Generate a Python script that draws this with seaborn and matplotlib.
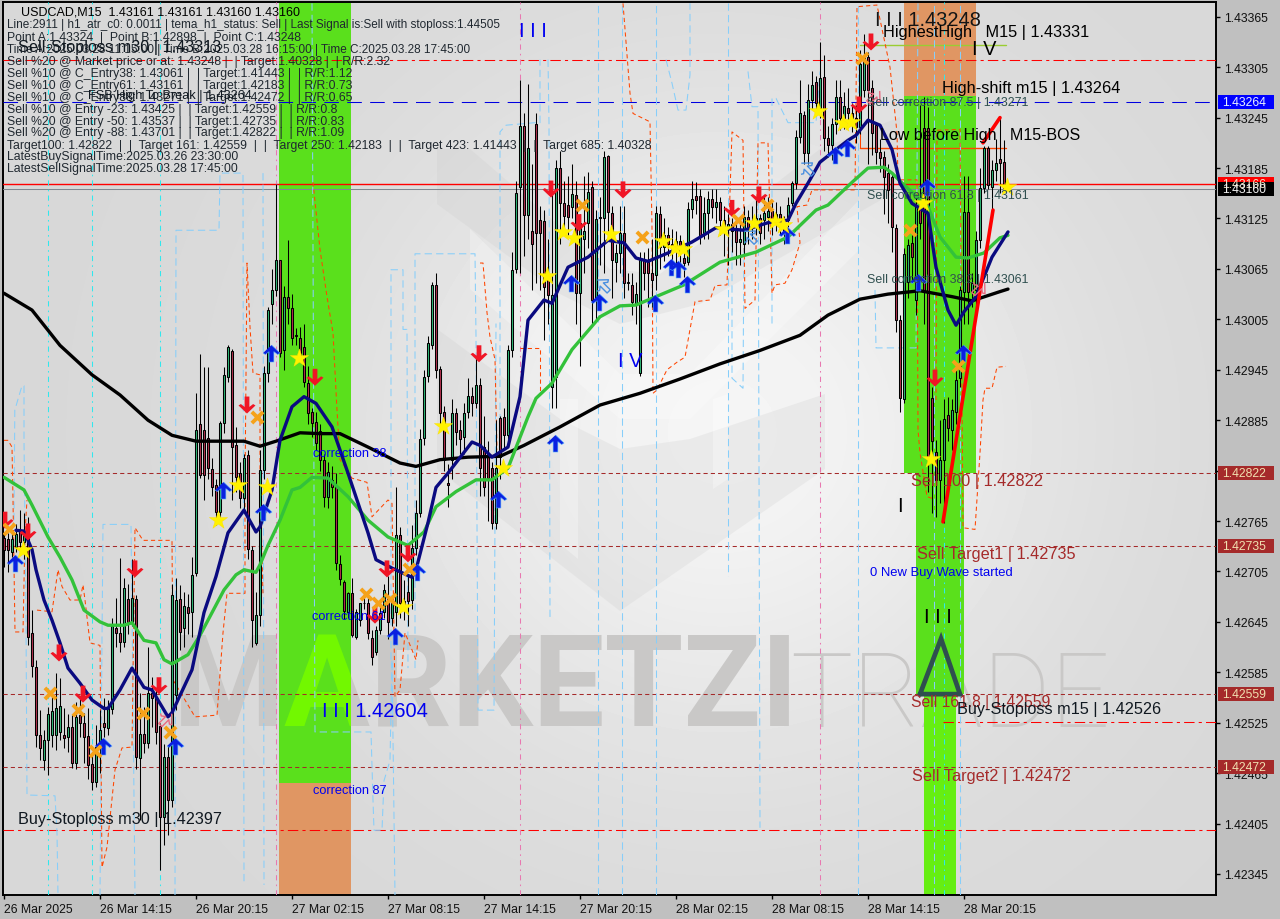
import numpy as np
import pandas as pd
import matplotlib
matplotlib.use("Agg")
import matplotlib.pyplot as plt
import seaborn as sns
from matplotlib.patches import Polygon, Rectangle
from matplotlib.transforms import Affine2D

# ---- candle values, in points (1e-5) above 1.42000
opens = [745,744,728,734,754,740,750,632,591,510,
 481,505,510,510,514,510,508,520,477,534,
 525,509,476,454,496,525,519,541,638,632,
 621,672,645,672,483,512,501,560,555,521,
 413,484,433,558,672,638,663,657,703,880,
 873,864,827,808,776,882,936,967,855,822,
 792,843,731,620,653,826,941,1023,1040,1076,
 969,1031,1019,986,983,972,929,895,883,872,
 838,794,814,805,714,692,657,679,627,647,
 668,667,626,609,635,657,675,650,657,748,
 670,680,671,733,775,864,937,975,1046,946,
 895,810,838,893,873,865,895,914,905,927,
 853,846,828,763,888,889,867,968,1065,1162,
 1235,1129,1110,1238,1123,1122,1058,924,936,1185,
 1143,1141,1139,1153,1036,1100,1120,1162,1028,1127,
 1126,1199,1132,1073,1084,1108,1049,1046,1024,941,
 1076,1073,1060,1058,1130,1091,1105,1095,1090,1098,
 1078,1073,1136,1152,1152,1108,1131,1148,1139,1145,
 1123,1115,1118,1111,1097,1095,1127,1114,1118,1125,
 1123,1127,1134,1120,1130,1115,1123,1143,1167,1222,
 1248,1203,1266,1287,1256,1293,1221,1212,1237,1270,
 1245,1256,1250,1245,1234,1278,1317,1280,1236,1204,
 1198,1179,1174,1114,1004,910,1050,1096,1028,1140,
 1233,1233,911,847,814,838,891,873,895,935,
 1038,1133,1038,1040,1099,1161,1209,1162,1183,1196,1192]
closes = [731,731,744,750,740,752,627,593,510,495,
 505,535,539,543,545,507,520,477,532,525,
 508,475,454,496,516,520,543,640,632,621,
 685,645,673,484,512,501,560,555,514,413,
 484,433,677,671,633,664,656,701,873,820,
 820,828,806,776,882,939,972,853,817,792,
 840,732,647,653,826,941,1016,1040,1076,965,
 1031,1019,983,985,960,930,893,882,858,838,
 794,823,805,715,696,658,679,629,657,668,
 667,632,603,635,656,683,645,668,748,667,
 660,670,733,775,863,936,977,1046,945,893,
 838,808,893,871,863,893,914,905,927,828,
 806,816,763,828,841,867,968,1064,1155,1235,
 1129,1209,1095,1108,1108,1044,1034,1034,1185,1143,
 1128,1127,1154,1036,1120,1110,1157,1028,1124,1125,
 1198,1133,1076,1084,1108,1048,1048,1026,1035,1076,
 1060,1060,1052,1131,1091,1105,1095,1090,1098,1085,
 1072,1136,1148,1147,1103,1131,1148,1139,1145,1123,
 1115,1118,1110,1097,1100,1127,1114,1118,1125,1108,
 1131,1134,1120,1130,1115,1110,1141,1167,1222,1250,
 1203,1266,1284,1262,1292,1221,1212,1237,1270,1245,
 1259,1250,1245,1234,1309,1317,1278,1227,1204,1197,
 1174,1159,1115,1004,911,1083,1093,1079,1141,1120,
 1040,840,860,814,838,886,876,897,933,1040,
 1133,1038,1048,1099,1161,1209,1165,1183,1191,1191,1161]
highs = [751,751,754,762,778,775,770,659,600,540,
 516,544,560,584,578,543,535,534,550,556,
 537,542,490,522,540,554,552,650,673,721,
 697,690,720,677,560,544,615,579,565,525,
 500,497,690,697,689,680,678,722,917,964,
 948,948,840,815,884,948,975,970,877,835,
 845,850,735,680,850,950,1020,1065,1166,1076,
 1045,1099,1035,995,996,1000,950,900,895,880,
 845,835,830,822,725,695,681,697,660,668,
 675,675,635,640,670,690,700,672,805,758,
 695,700,760,790,875,945,985,1050,1060,950,
 902,833,910,900,885,905,935,925,960,935,
 890,860,835,885,890,900,975,1085,1170,1290,
 1250,1285,1190,1250,1140,1135,1100,1165,1195,1205,
 1170,1175,1190,1170,1130,1175,1180,1170,1135,1150,
 1205,1200,1140,1095,1140,1140,1060,1060,1050,1085,
 1085,1090,1100,1140,1140,1125,1115,1112,1110,1105,
 1090,1145,1170,1168,1160,1150,1158,1160,1160,1150,
 1140,1130,1125,1125,1120,1140,1135,1140,1150,1130,
 1150,1150,1145,1145,1140,1128,1150,1170,1230,1290,
 1253,1285,1300,1295,1335,1320,1235,1245,1290,1290,
 1275,1280,1262,1260,1325,1345,1323,1290,1240,1220,
 1205,1190,1180,1118,1010,1090,1100,1105,1150,1260,
 1270,1258,925,862,885,910,913,910,953,1045,
 1175,1175,1060,1110,1185,1211,1211,1195,1220,1244,1218]
lows = [710,704,722,728,727,720,617,579,496,481,
 469,463,496,492,504,495,490,471,470,508,
 477,458,445,448,465,508,510,535,615,609,
 615,630,640,470,409,489,495,520,500,350,
 380,391,425,540,611,615,631,627,700,816,
 790,815,795,760,770,870,930,790,800,780,
 775,720,615,618,640,815,930,1000,1033,960,
 945,1000,975,975,955,925,880,865,850,825,
 782,780,792,707,689,648,650,627,625,640,
 660,625,594,605,630,650,625,640,640,650,
 647,640,660,725,770,855,930,970,935,880,
 825,782,815,855,845,845,888,890,900,795,
 795,765,755,755,815,850,860,960,1060,1060,
 1080,1100,1040,1048,1040,980,1000,900,900,1095,
 1105,1105,1125,1000,950,1060,1090,1000,1005,1070,
 1060,1110,1030,1050,1060,1030,1040,1010,1000,938,
 1040,1020,1020,1040,1065,1075,1080,1075,1070,1060,
 1055,1070,1125,1130,1095,1100,1100,1125,1120,1105,
 1080,1070,1085,1070,1070,1080,1095,1100,1105,1095,
 1100,1110,1105,1110,1105,1095,1115,1140,1160,1215,
 1190,1190,1255,1250,1245,1205,1198,1195,1225,1230,
 1232,1235,1228,1215,1225,1270,1190,1200,1190,1180,
 1130,1120,1085,990,895,905,1030,1050,1010,1100,
 1000,800,775,770,787,763,860,850,880,925,
 1000,1000,1020,1010,1090,1155,1160,1125,1170,1155,1160]

# ---- moving averages: bar number and level
ma_slow_x = [0,7,14,22,29,36,42,48,54,60,64,68,74,79,84,91,99,103,109,116,124,130,139,149,159,169,179,189,199,206,214,221,229,237,242,249,251]
ma_slow_y = [1036,1016,974,939,915,885,867,860,860,860,854,860,870,869,869,853,834,830,838,841,842,855,877,903,917,934,952,968,986,1010,1029,1035,1039,1032,1027,1038,1041]
ma_mid_x = [0,2,5,7,11,14,17,20,24,26,30,32,35,38,40,42,46,49,51,55,58,60,63,64,66,69,72,74,77,81,86,91,96,101,105,108,113,118,122,126,131,133,137,142,149,154,158,162,170,179,188,196,203,206,212,216,220,222,225,231,234,238,241,245,249,251]
ma_mid_y = [817,811,802,784,746,722,695,659,645,641,641,644,623,620,600,595,606,629,647,683,701,707,704,713,736,766,802,805,817,816,794,766,746,736,752,782,800,814,814,828,889,911,929,969,1008,1021,1022,1030,1046,1073,1085,1103,1135,1141,1168,1185,1186,1179,1165,1139,1103,1079,1078,1084,1102,1105]
ma_fast_x = [3,5,7,8,10,12,14,16,19,22,25,26,29,32,35,37,41,42,47,50,53,56,60,63,64,67,69,72,75,78,82,86,91,93,97,102,103,106,108,111,117,119,122,126,129,131,135,137,141,146,151,155,158,161,166,172,178,185,191,196,198,201,204,208,211,213,216,219,222,224,227,231,233,236,238,240,243,247,251]
ma_fast_y = [754,753,731,707,671,647,620,590,572,552,542,542,564,590,567,564,532,537,588,656,699,751,778,752,758,802,861,901,913,905,877,822,751,719,709,698,707,763,805,822,859,855,841,853,913,1004,1028,1024,1067,1079,1099,1096,1078,1074,1084,1097,1114,1111,1120,1123,1143,1167,1192,1207,1218,1224,1242,1236,1207,1167,1143,1131,1067,1016,998,1014,1032,1079,1109]

# ---- signal markers: bar number and level
star_x = [4.75,53.5,58.5,65.75,73.75,109.75,124.75,99.75,135.75,139.75,142.5,151.75,164.75,167.75,169.75,179.75,187.5,192.75,194.75,203.5,209.75,211.75,229.75,231.75,250.75]
star_y = [731,766,808,805,959,878,828,663,1057,1109,1102,1107,1098,1090,1089,1112,1120,1122,1117,1253,1239,1240,1143,839,1162]
cross_x = [1.25,63.25,11.5,18.5,34.75,41.5,22.75,90.5,93.5,96.5,101.25,144.5,159.5,183.5,190.75,214.5,226.5,238.5]
cross_y = [755,889,560,540,537,514,491,678,667,672,708,1141,1103,1123,1141,1316,1111,949]
down_x = [0.25,6,13.75,19.75,32.75,38.75,60.75,77.75,95.75,101,92.75,118.75,136.75,143.75,154.75,182,188.75,213.75,216.75,232.75]
down_y = [766,752,608,559,708,569,903,936,708,726,653,964,1160,1120,1159,1137,1153,1260,1335,935]
up_x = [2.75,24.75,42.75,54.75,64.75,66.75,97.75,103.25,123.5,137.75,141.75,148.75,162.75,166.75,168.5,170.75,195.75,207.75,210.75,230.75,228.5,239.75]
up_y = [715,497,497,802,776,965,628,704,791,858,1048,1026,1024,1067,1065,1047,1105,1201,1209,1162,1049,965]
hollow_up_x = [149.75,186.5,200.75]
hollow_up_y = [1045,1103,1184]
hollow_dn_x = [40.5,217.5,243.75]
hollow_dn_y = [529,1270,1042]

# ---- dashed channel lines: (bar, level)
sky_paths = [
 [(2.5,766),(2.7,897),(4.5,926),(5,926),(5,861),(5.5,647),(5.75,439),(12.75,438),(13.25,394),(13.5,319)],
 [(24,319),(24.5,623),(24.75,761),(31.75,761),(32.25,552),(32.75,319)],
 [(42.75,319),(43,1111),(53.75,1111),(54,1179),(59.75,1179),(60,332)],
 [(64.75,1179),(65,332)],
 [(77,1381),(77.75,514),(91.75,514),(92.25,433),(92.5,397),(94.5,397),(95,456),(96.5,480),(97,600),(97.75,319)],
 [(96.75,600),(96.75,1064),(99.75,1064),(99.75,993),(100.75,993),(101,590)],
 [(102.75,590),(102.75,1083),(117.75,1083),(118,985),(118.5,540),(122.5,540),(123,1000)],
 [(124,870),(124,1228),(125.5,1236),(132.75,1239),(134,1239),(134,1314)],
 [(136,1314),(136.25,1239),(136.5,650)],
 [(165.5,1314),(167,1286),(168.5,1254),(170.5,1254),(171.5,1296),(171.5,1381)],
 [(181,1381),(181,700)],
 [(182,1100),(182,935),(184.75,923),(185,1100)],
 [(186,1300),(187,1258),(188.5,1258),(189,400)],
 [(192,1000),(192,1268),(193,1268),(196,1239),(203,1239),(204,1300)],
 [(217.75,1040),(218,971),(228,971),(228.5,1381)],
]
orange_paths = [
 [(0,861),(1,861),(2,853),(2.25,790),(2.75,633),(4.75,633),(5.25,751),(5.75,790)],
 [(8.25,659),(12,657),(13.5,707),(14.5,687),(16.5,671),(19,671),(19.75,689),(20.25,671),(21.5,620),(24,617),(24.5,353),(25.75,377),(27.75,469),(29.5,495),(32,496),(32.75,757),(34.75,742),(42,742),(42.25,576),(47.75,532),(53.25,534),(54.75,632),(55.75,679),(60.25,679),(60.25,805),(60.75,1072),(61.5,996),(62.25,941),(64,939),(64,814),(64.75,679)],
 [(77.25,1168),(79,1088),(80.75,1032),(82.25,989),(83.25,897),(84,838),(87,816),(90.75,811),(92,770),(96,790),(97,786),(97.75,556),(99,564),(100.25,632),(103,600),(103.5,623)],
 [(119,1072),(119.75,1072),(120.75,1013),(121.5,984),(122.75,957),(123.25,850)],
 [(129,971),(134,971),(134,917)],
 [(154.75,1381),(156.5,1274),(157.25,1250),(161.5,1240),(162,1115),(162.25,917),(163.25,921),(165.75,945),(168.25,954),(170.25,960),(172.75,1026),(176.5,1028),(177.75,1045),(180.75,1046),(182,1228),(184.75,1218),(185.25,1018),(187.75,1028),(188.5,1215),(191,1215),(192,1036),(192.75,1046),(195.25,1048),(197,1064),(199,1096),(198.25,1139),(200.75,1141),(202,1159),(212.75,1159),(213.25,1377),(218.25,1379),(221.5,1305),(223.25,1227),(223.5,1171),(228.25,1171),(228.5,873),(229,846),(230.75,794),(232,792)],
 [(233,909),(233.25,1230),(239,1231),(239.75,757),(242.75,755),(244,846),(244.75,909),(245.25,923),(247,923),(248.25,948),(250.5,949)],
]
cyan_bars = [11, 22, 39, 235]
sky_bars = [148.5, 154.5, 163, 213.5, 232.5, 239]
pink_bars = [68, 129, 204]

# ---- levels
level_sell_sl = 1.43313
level_high_shift = 1.43264
level_bid = 1.43160
level_ask = 1.43166
levels_target = [1.42822, 1.42735, 1.42559, 1.42472]
level_buy_sl_m30 = 1.42397
level_buy_sl_m15 = 1.42526
level_highest = 1.43331
level_bos = 1.43209
zone_a_split = 1.42453
# leg lines: (bar, level)
leg_up = [(234.75,764),(247.25,1135)]
leg_up2 = [(244.75,1215),(249,1245)]
triangle = [(229,1.42559),(234.25,1.42625),(239,1.42559)]

y_ticks = [1.43365,1.43305,1.43245,1.43185,1.43125,1.43065,1.43005,1.42945,1.42885,1.42825,1.42765,1.42705,1.42645,1.42585,1.42525,1.42465,1.42405,1.42345]
x_tick_bars = [0,24,48,72,96,120,144,168,192,216,240]
x_tick_labels = ["26 Mar 2025","26 Mar 14:15","26 Mar 20:15","27 Mar 02:15","27 Mar 08:15","27 Mar 14:15","27 Mar 20:15","28 Mar 02:15","28 Mar 08:15","28 Mar 14:15","28 Mar 20:15"]

info_lines = [
 "Line:2911 | h1_atr_c0: 0.0011 | tema_h1_status: Sell | Last Signal is:Sell with stoploss:1.44505",
 "Point A:1.43324  |  Point B:1.42898  |  Point C:1.43248",
 "Time A:2025.03.28 11:15:00 | Time B:2025.03.28 16:15:00 | Time C:2025.03.28 17:45:00",
 "Sell %20 @ Market price or at: 1.43248 |  | Target:1.40328 |  | R/R:2.32",
 "Sell %10 @ C_Entry38: 1.43061 |  | Target:1.41443 |  | R/R:1.12",
 "Sell %10 @ C_Entry61: 1.43161 |  | Target:1.42183 |  | R/R:0.73",
 "Sell %10 @ C_Entry88: 1.43271 |  | Target:1.42472 |  | R/R:0.65",
 "Sell %10 @ Entry -23: 1.43425 |  | Target:1.42559 |  | R/R:0.8",
 "Sell %20 @ Entry -50: 1.43537 |  | Target:1.42735 |  | R/R:0.83",
 "Sell %20 @ Entry -88: 1.43701 |  | Target:1.42822 |  | R/R:1.09",
 "Target100: 1.42822  |  |  Target 161: 1.42559  |  |  Target 250: 1.42183  |  |  Target 423: 1.41443  |  |  Target 685: 1.40328",
 "LatestBuySignalTime:2025.03.26 23:30:00",
 "LatestSellSignalTime:2025.03.28 17:45:00",
]
info_sizes = [11.8, 12.2, 11.8, 12.2, 12.2, 12.2, 12.2, 12.2, 12.2, 12.2, 12.2, 12.2, 12.2]

def P(v):
    return 1.42 + np.asarray(v, dtype=float) * 1e-5

sns.set_theme(style="white")
plt.rcParams["font.family"] = ["Liberation Sans", "DejaVu Sans"]
W, H = 1280, 920
GREY = "#c0c0c0"
fig = plt.figure(figsize=(W/100, H/100), dpi=100, facecolor=GREY)
ax = fig.add_axes([3/W, (H-896)/H, 1213/W, 893/H])
XL = (-0.25, 303.0)
YL = (1.4232, 1.433826)
PX = Affine2D().scale(1, -1).translate(0, H)

# background gradient (decorative)
yy, xx = np.mgrid[0:120, 0:160]
gx, gy = xx/159*1213, yy/119*893
bg = 0.845 + 0.115*np.exp(-(((gx-720)/340)**2 + ((gy-430)/330)**2))
ax.imshow(bg, extent=[XL[0], XL[1], YL[0], YL[1]], aspect="auto", cmap="gray", vmin=0, vmax=1, zorder=0, interpolation="bilinear")
ax.set_xlim(*XL); ax.set_ylim(*YL)

# faint logo (decorative)
for pts, col in [
    ([(437,205),(437,150),(470,150),(610,270),(660,275),(820,150),(900,118),(900,190),(700,305),(620,325),(560,295)], (0.78,0.78,0.78,0.22)),
    ([(437,330),(437,470),(620,612),(825,470),(825,395),(690,440),(620,450),(560,420)], (0.78,0.78,0.78,0.22)),
    ([(560,400),(578,400),(578,560),(560,545)], (1,1,1,0.3)),
    ([(713,400),(728,395),(728,480),(713,490)], (1,1,1,0.3)),
    ([(470,230),(620,375),(690,375),(860,200),(860,250),(690,420),(620,420),(470,290)], (1,1,1,0.28)),
]:
    ax.add_patch(Polygon(pts, closed=True, transform=PX, fc=col, ec="none", zorder=1))

# zones
C_GREEN = "#5ae01c"; C_ORANGE = "#e09663"; C_LIME = "#66ee12"
z_a = (68.75, 86.75)
ax.fill_between(z_a, zone_a_split, YL[1], color=C_GREEN, lw=0, zorder=2)
ax.fill_between(z_a, YL[0], zone_a_split, color=C_ORANGE, lw=0, zorder=2)
ax.fill_between((225,243), 1.42822, 1.43271, color=C_GREEN, lw=0, zorder=2)
ax.fill_between((225,243), 1.43271, YL[1], color=C_ORANGE, lw=0, zorder=2)
ax.fill_between((228,240), 1.42559, 1.42822, color=C_GREEN, lw=0, zorder=2)
ax.fill_between((230,238), YL[0], 1.42559, color=C_LIME, lw=0, zorder=2)

# watermark: grey outside the green zone, lime inside it
ax.text(173, 727, "MARKETZI", transform=PX, fontsize=92, fontweight="bold", color="#c9c8c7", va="baseline", ha="left", family="Roboto", zorder=1.5)
wm2 = ax.text(173, 727, "MARKETZI", transform=PX, fontsize=92, fontweight="bold", color="#72f800", va="baseline", ha="left", family="Roboto", zorder=3.1)
clip = Rectangle((279, 0), 72, 783, transform=PX, fc="none", ec="none")
ax.add_patch(clip)
wm2.set_clip_on(True)
wm2.set_clip_path(clip)
ax.text(790, 727, "TRADE", transform=PX, fontsize=75, fontweight="light", color="#c9c8c7", va="baseline", ha="left", family="Roboto", zorder=1.5)

# level lines (1 px wide)
LW = 0.75
lk = dict(zorder=4)
ax.axhline(level_sell_sl, color="#ff0000", lw=LW, ls=(0, (10, 4, 3, 4)), **lk)
ax.axhline(level_high_shift, color="#0000e0", lw=LW, ls=(0, (14, 8)), **lk)
ax.axhline(level_ask, color="#ff0000", lw=1.0, **lk)
ax.axhline(level_bid, color="#808890", lw=LW, **lk)
for lv in levels_target:
    ax.axhline(lv, color="#a52a2a", lw=LW, ls=(0, (4, 3)), **lk)
ax.axhline(level_buy_sl_m30, color="#ff0000", lw=LW, ls=(0, (10, 4, 3, 4)), **lk)
ax.plot([234.75, XL[1]], [level_buy_sl_m15]*2, color="#ff0000", lw=LW, ls=(0, (10, 4, 3, 4)), **lk)
ax.plot([214, 250.5], [level_highest]*2, color="#9acd32", lw=1.0, **lk)
ax.plot([214, 250.5], [level_bos]*2, color="#ff4500", lw=1.0, **lk)
ax.plot([214, 214], [level_bos, 1.4331], color="#ff4500", lw=LW, **lk)

# dashed channels and verticals
for b in cyan_bars:
    ax.axvline(b, color="#30e8ee", lw=LW, ls=(0, (5, 4, 1.5, 4)), zorder=5)
for b in sky_bars:
    ax.axvline(b, color="#87cefa", lw=LW, ls=(0, (7, 4)), zorder=5)
for b in pink_bars:
    ax.axvline(b, color="#e878b0", lw=LW, ls=(0, (5, 4, 1.5, 4)), zorder=5)
for path in sky_paths:
    a = np.array(path)
    ax.plot(a[:, 0], P(a[:, 1]), color="#87cefa", lw=LW, ls=(0, (7, 4)), zorder=5)
for path in orange_paths:
    a = np.array(path)
    ax.plot(a[:, 0], P(a[:, 1]), color="#ff4500", lw=LW, ls=(0, (4, 3)), zorder=5)

# candles
bars = np.arange(len(opens))
o, c, h, l = map(np.array, (opens, closes, highs, lows))
ax.vlines(bars, P(l), P(h), color="black", lw=LW, zorder=6)
up = c >= o
ax.bar(bars[up], P(c[up])-P(o[up]), bottom=P(o[up]), width=0.72, color="#2fb877", edgecolor="black", lw=LW, zorder=6.1)
ax.bar(bars[~up], P(o[~up])-P(c[~up]), bottom=P(c[~up]), width=0.72, color="#b0304e", edgecolor="black", lw=LW, zorder=6.1)

# moving averages
for xs, ys, col in [(ma_slow_x, ma_slow_y, "black"), (ma_mid_x, ma_mid_y, "#33c23a"), (ma_fast_x, ma_fast_y, "#0a0a80")]:
    df = pd.DataFrame({"bar": xs, "price": P(ys)})
    sns.lineplot(data=df, x="bar", y="price", color=col, lw=2.4, sort=False, estimator=None, ax=ax, zorder=7, solid_joinstyle="round")

# legs and triangle
a = np.array(leg_up); ax.plot(a[:, 0], P(a[:, 1]), color="#ff0000", lw=2.6, zorder=7.2)
a = np.array(leg_up2); ax.plot(a[:, 0], P(a[:, 1]), color="#ff0000", lw=2.6, zorder=7.2)
tx, ty = zip(*triangle)
ax.plot(list(tx)+[tx[0]], list(ty)+[ty[0]], color="#2f4f4f", lw=3.4, zorder=7.2, solid_joinstyle="miter")

# markers
arrow_up = [(0,1),(1,0.05),(0.72,-0.12),(0.28,0.22),(0.28,-1),(-0.28,-1),(-0.28,0.22),(-0.72,-0.12),(-1,0.05)]
arrow_dn = [(x,-y) for x,y in arrow_up]
arrow_ne = [((x-y)*0.707,(x+y)*0.707) for x,y in arrow_up]
arrow_nw = [((x+y)*0.707,(y-x)*0.707) for x,y in arrow_up]
def sc(xs, ys, **kw):
    df = pd.DataFrame({"bar": xs, "price": P(ys)})
    sns.scatterplot(data=df, x="bar", y="price", ax=ax, legend=False, **kw)
sc(hollow_up_x, hollow_up_y, marker=arrow_ne, s=110, facecolor="none", edgecolor="#4a90e0", linewidth=1.0, zorder=8)
sc(hollow_dn_x, hollow_dn_y, marker=arrow_nw, s=110, facecolor="none", edgecolor="#e86a80", linewidth=1.0, zorder=8)
sc(up_x, up_y, marker=arrow_up, s=150, color="#0a20e0", edgecolor="#58b0ff", linewidth=0.4, zorder=8)
sc(down_x, down_y, marker=arrow_dn, s=150, color="#f01525", edgecolor="none", linewidth=0, zorder=8)
sc(cross_x, cross_y, marker="x", s=65, color="#f5a21a", linewidth=2.8, zorder=8.1)
sc(star_x, star_y, marker="*", s=190, color="#fff200", edgecolor="#ffe000", linewidth=0.3, zorder=8.2)

# texts
def T(x, y, s, size=12, color="black", **kw):
    kw.setdefault("va", "center"); kw.setdefault("ha", "left")
    ax.text(x, y, s, transform=PX, fontsize=size*0.72, color=color, zorder=9, **kw)

T(21, 13, "USDCAD,M15  1.43161 1.43161 1.43160 1.43160", 12.5)
ys_info = [25, 38, 50, 62, 74, 86, 98, 110, 122, 133, 146, 157, 169]
for y_, s_, z_ in zip(ys_info, info_lines, info_sizes):
    T(7, y_, s_, z_, "#202830")
T(18, 48, "Sell-Stoploss m30 | 1.43313", 16.2, "#101820")
T(88, 96, "FSB High To Break | 1.43264", 12.8, "#101820")
T(18, 820, "Buy-Stoploss m30 | 1.42397", 16.2, "#101820")
T(322, 712, "I I I 1.42604", 20, "#0000f0")
T(618, 362, "I V", 20, "#0000f0")
T(519, 32, "I I I", 20, "#0000f0")
T(875, 21, "I I I 1.43248", 20, "#151515")
T(883, 33, "HighestHigh   M15 | 1.43331", 16.2)
T(972, 50, "I V", 20)
T(942, 89, "High-shift m15 | 1.43264", 16.4)
T(880, 136, "Low before High   M15-BOS", 16)
T(867, 103, "Sell correction 87.5 | 1.43271", 12.4, "#2f4f4f")
T(867, 196, "Sell correction 61.8 | 1.43161", 12.4, "#2f4f4f")
T(867, 280, "Sell correction 38.2 | 1.43061", 12.4, "#2f4f4f")
T(911, 482, "Sell 100 | 1.42822", 16.4, "#a52a2a")
T(917, 555, "Sell Target1 | 1.42735", 16.2, "#a52a2a")
T(870, 573, "0 New Buy Wave started", 13, "#0000f0")
T(911, 703, "Sell 161.8 | 1.42559", 15.8, "#a52a2a")
T(957, 710, "Buy-Stoploss m15 | 1.42526", 16.2, "#101820")
T(912, 777, "Sell Target2 | 1.42472", 16.2, "#a52a2a")
T(313, 454, "correction 38", 12.8, "#0000f0")
T(312, 617, "correction 61", 12.8, "#0000f0")
T(313, 791, "correction 87", 12.8, "#0000f0")
T(897, 507, "I", 20)
T(924, 618, "I I I", 20)

# axes
ax.yaxis.tick_right()
ax.set_yticks(y_ticks)
ax.set_yticklabels([f"{v:.5f}" for v in y_ticks])
ax.set_xticks(x_tick_bars)
ax.set_xticklabels(x_tick_labels, ha="left")
ax.tick_params(axis="both", length=3, width=1, color="black", labelcolor="#101010", labelsize=8.8, pad=3, bottom=True, right=True)
ax.set_xlabel(""); ax.set_ylabel("")
for s in ax.spines.values():
    s.set_visible(True); s.set_color("black"); s.set_linewidth(1.4)

# price tags in the right margin
def tag(level, bg_col, txt_col):
    y = (YL[1]-level)/(YL[1]-YL[0])*893+3
    ax.add_patch(Rectangle((1218, y-7), 56, 14, transform=PX, fc=bg_col, ec="none", clip_on=False, zorder=10))
    ax.text(1222, y, f"{level:.5f}", transform=PX, fontsize=8.8, color=txt_col, va="center", ha="left", clip_on=False, zorder=11)
tag(level_ask, "#ff0000", "#f5e6c8")
tag(level_high_shift, "#0000ff", "#e8f0ff")
tag(level_bid, "#000000", "#f0f0f0")
for lv in levels_target:
    tag(lv, "#a52a2a", "#f0e0b0")

fig.savefig("out.png", dpi=100, facecolor=GREY)
